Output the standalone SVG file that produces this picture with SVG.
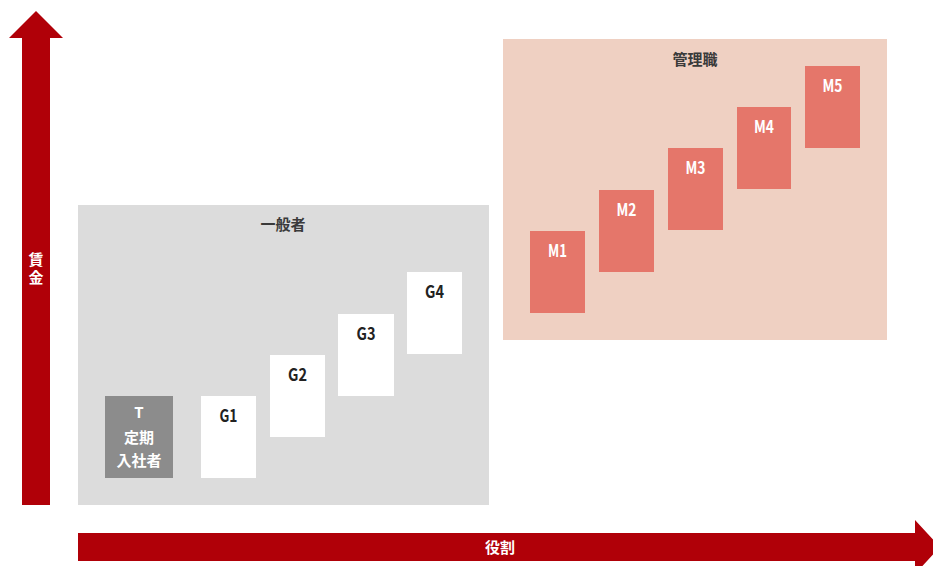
<svg xmlns="http://www.w3.org/2000/svg" width="933" height="566" viewBox="0 0 933 566">
<style>
.arrow{fill:#b00008}
.grp-g{fill:#dcdcdc}
.grp-m{fill:#efd0c2}
.gbox{fill:#ffffff}
.mbox{fill:#e5766a}
.tbox{fill:#8c8c8c}
.lbl{font-family:"Noto Sans CJK JP",sans-serif;font-weight:bold;font-size:17px;text-anchor:middle}
.jp{font-family:"Noto Sans CJK JP",sans-serif;font-weight:bold;text-anchor:middle}
.dark{fill:#222222}
.white{fill:#ffffff}
.head{font-size:15px;fill:#3a3a3a}
</style>
<g id="axes">
  <g id="axis-y">
    <polygon class="arrow" points="36,11 63,38 50,38 50,505 22,505 22,38 9,38"/>
    <text class="jp white" font-size="15" x="36" y="252" writing-mode="vertical-rl" style="text-anchor:start" letter-spacing="3">賃金</text>
  </g>
  <g id="axis-x">
    <polygon class="arrow" points="78,533 915,533 915,520 940,547 915,574 915,561 78,561"/>
    <text class="jp white" font-size="15" x="500" y="553">役割</text>
  </g>
</g>
<g id="group-general">
  <rect class="grp-g" x="78" y="205" width="411" height="300"/>
  <text class="jp head" x="283" y="230">一般者</text>
</g>
<g id="group-manager">
  <rect class="grp-m" x="503" y="39" width="384" height="301"/>
  <text class="jp head" x="695" y="65">管理職</text>
</g>
<g id="node-T">
  <rect class="tbox" x="105" y="396" width="68" height="82"/>
  <text class="jp white" font-size="15" x="139" y="418">T</text>
  <text class="jp white" font-size="15" x="139" y="443">定期</text>
  <text class="jp white" font-size="15" x="139" y="466">入社者</text>
</g>
<g id="node-G1"><rect class="gbox" x="201" y="396" width="55" height="82"/><text class="lbl dark" x="228.5" y="422" textLength="18" lengthAdjust="spacingAndGlyphs">G1</text></g>
<g id="node-G2"><rect class="gbox" x="270" y="355" width="55" height="82"/><text class="lbl dark" x="297.5" y="381" textLength="19" lengthAdjust="spacingAndGlyphs">G2</text></g>
<g id="node-G3"><rect class="gbox" x="338" y="314" width="56" height="82"/><text class="lbl dark" x="366" y="340" textLength="19" lengthAdjust="spacingAndGlyphs">G3</text></g>
<g id="node-G4"><rect class="gbox" x="407" y="272" width="55" height="82"/><text class="lbl dark" x="434.5" y="298" textLength="19" lengthAdjust="spacingAndGlyphs">G4</text></g>
<g id="node-M1"><rect class="mbox" x="530" y="231" width="55" height="82"/><text class="lbl white" x="557.5" y="257" textLength="19" lengthAdjust="spacingAndGlyphs">M1</text></g>
<g id="node-M2"><rect class="mbox" x="599" y="190" width="55" height="82"/><text class="lbl white" x="626.5" y="216" textLength="20" lengthAdjust="spacingAndGlyphs">M2</text></g>
<g id="node-M3"><rect class="mbox" x="668" y="148" width="55" height="82"/><text class="lbl white" x="695.5" y="174" textLength="20" lengthAdjust="spacingAndGlyphs">M3</text></g>
<g id="node-M4"><rect class="mbox" x="737" y="107" width="54" height="82"/><text class="lbl white" x="764" y="133" textLength="20" lengthAdjust="spacingAndGlyphs">M4</text></g>
<g id="node-M5"><rect class="mbox" x="805" y="66" width="55" height="82"/><text class="lbl white" x="832.5" y="92" textLength="20" lengthAdjust="spacingAndGlyphs">M5</text></g>
</svg>
